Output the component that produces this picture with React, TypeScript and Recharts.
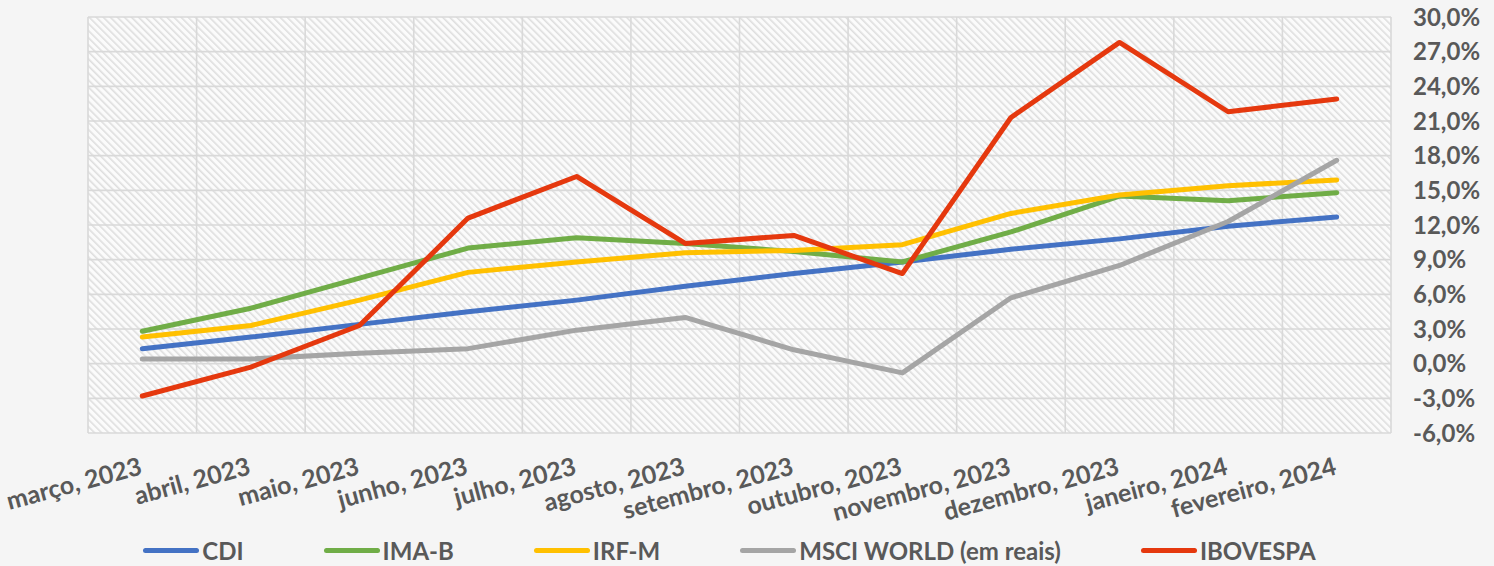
import { CartesianGrid, Legend, Line, LineChart, XAxis, YAxis } from 'recharts';

const months = [
  'março, 2023',
  'abril, 2023',
  'maio, 2023',
  'junho, 2023',
  'julho, 2023',
  'agosto, 2023',
  'setembro, 2023',
  'outubro, 2023',
  'novembro, 2023',
  'dezembro, 2023',
  'janeiro, 2024',
  'fevereiro, 2024',
];

const cdi = [1.3, 2.3, 3.4, 4.5, 5.5, 6.7, 7.8, 8.8, 9.9, 10.8, 11.9, 12.7];
const imaB = [2.8, 4.8, 7.4, 10.0, 10.9, 10.4, 9.7, 8.8, 11.4, 14.5, 14.1, 14.8];
const irfM = [2.3, 3.3, 5.5, 7.9, 8.8, 9.6, 9.8, 10.3, 13.0, 14.6, 15.4, 15.9];
const msciWorld = [0.4, 0.4, 0.9, 1.3, 2.9, 4.0, 1.2, -0.8, 5.7, 8.5, 12.3, 17.6];
const ibovespa = [-2.8, -0.3, 3.3, 12.6, 16.2, 10.4, 11.1, 7.8, 21.3, 27.8, 21.8, 22.9];

const yTicks = [-6, -3, 0, 3, 6, 9, 12, 15, 18, 21, 24, 27, 30];

const series = [
  { key: 'cdi', name: 'CDI', color: '#4472C4' },
  { key: 'imaB', name: 'IMA-B', color: '#70AD47' },
  { key: 'irfM', name: 'IRF-M', color: '#FFC000' },
  { key: 'msci', name: 'MSCI WORLD (em reais)', color: '#A5A5A5' },
  { key: 'ibov', name: 'IBOVESPA', color: '#E5380E' },
];

const data = months.map((m, i) => ({
  idx: i,
  month: m,
  cdi: cdi[i],
  imaB: imaB[i],
  irfM: irfM[i],
  msci: msciWorld[i],
  ibov: ibovespa[i],
}));

const FONT = 'Lato, "Open Sans", sans-serif';
const TEXT = '#595959';

const fmtPct = (v: number) => v.toFixed(1).replace('.', ',') + '%';

function MonthTick(props: any) {
  const { x, y, payload } = props;
  return (
    <g transform={`translate(${x + 1},${y + 41})`}>
      <text
        textAnchor="end"
        transform="rotate(-15)"
        fill={TEXT}
        fontFamily={FONT}
        fontWeight={700}
        fontSize={25}
      >
        {months[payload.value]}
      </text>
    </g>
  );
}

function LegendRow() {
  return (
    <div
      style={{
        height: 30,
        display: 'flex',
        justifyContent: 'center',
        alignItems: 'center',
        gap: 80,
        fontFamily: FONT,
        fontWeight: 700,
        fontSize: 24,
        color: TEXT,
        paddingRight: 123,
      }}
    >
      {series.map((s) => (
        <div key={s.key} style={{ display: 'flex', alignItems: 'center' }}>
          <span
            style={{
              display: 'inline-block',
              width: 56,
              height: 5,
              borderRadius: 3,
              background: s.color,
              marginRight: 3,
            }}
          />
          <span>{s.name}</span>
        </div>
      ))}
    </div>
  );
}

export default function App() {
  const n = months.length;
  return (
    <div
      style={{
        position: 'fixed',
        left: 0,
        top: 0,
        width: 1494,
        height: 566,
        background: '#f5f5f5',
      }}
    >
      <LineChart
        width={1494}
        height={566}
        data={data}
        margin={{ top: 17, right: 0, left: 88, bottom: 1 }}
      >
        <defs>
          <pattern
            id="hatch"
            patternUnits="userSpaceOnUse"
            width={5}
            height={5}
            patternTransform="rotate(-45)"
          >
            <rect x={0} y={0} width={5} height={5} fill="#fbfbfb" />
            <rect x={0} y={0} width={1.6} height={5} fill="#dedede" />
          </pattern>
        </defs>
        <CartesianGrid
          fill="url(#hatch)"
          fillOpacity={1}
          stroke="#d9d9d9"
          strokeWidth={1.6}
          yAxisId="pct"
          verticalCoordinatesGenerator={({ offset }: any) =>
            Array.from({ length: n + 1 }, (_, k) => offset.left + (offset.width * k) / n)
          }
        />
        <XAxis
          dataKey="idx"
          type="number"
          domain={[-0.5, n - 0.5]}
          ticks={months.map((_, i) => i)}
          interval={0}
          axisLine={false}
          tickLine={false}
          tickSize={0}
          tickMargin={0}
          height={102}
          tick={<MonthTick />}
        />
        <YAxis
          yAxisId="pct"
          orientation="right"
          domain={[-6, 30]}
          ticks={yTicks}
          interval={0}
          axisLine={false}
          tickLine={false}
          tickSize={0}
          tickMargin={22}
          width={103}
          tickFormatter={fmtPct}
          tick={{ fill: TEXT, fontFamily: FONT, fontWeight: 700, fontSize: 24 }}
        />
        <Legend verticalAlign="bottom" content={() => <LegendRow />} />
        {series.map((s) => (
          <Line
            key={s.key}
            yAxisId="pct"
            type="linear"
            dataKey={s.key}
            name={s.name}
            stroke={s.color}
            strokeWidth={5}
            strokeLinecap="round"
            strokeLinejoin="round"
            dot={false}
            activeDot={false}
            isAnimationActive={false}
          />
        ))}
      </LineChart>
    </div>
  );
}
